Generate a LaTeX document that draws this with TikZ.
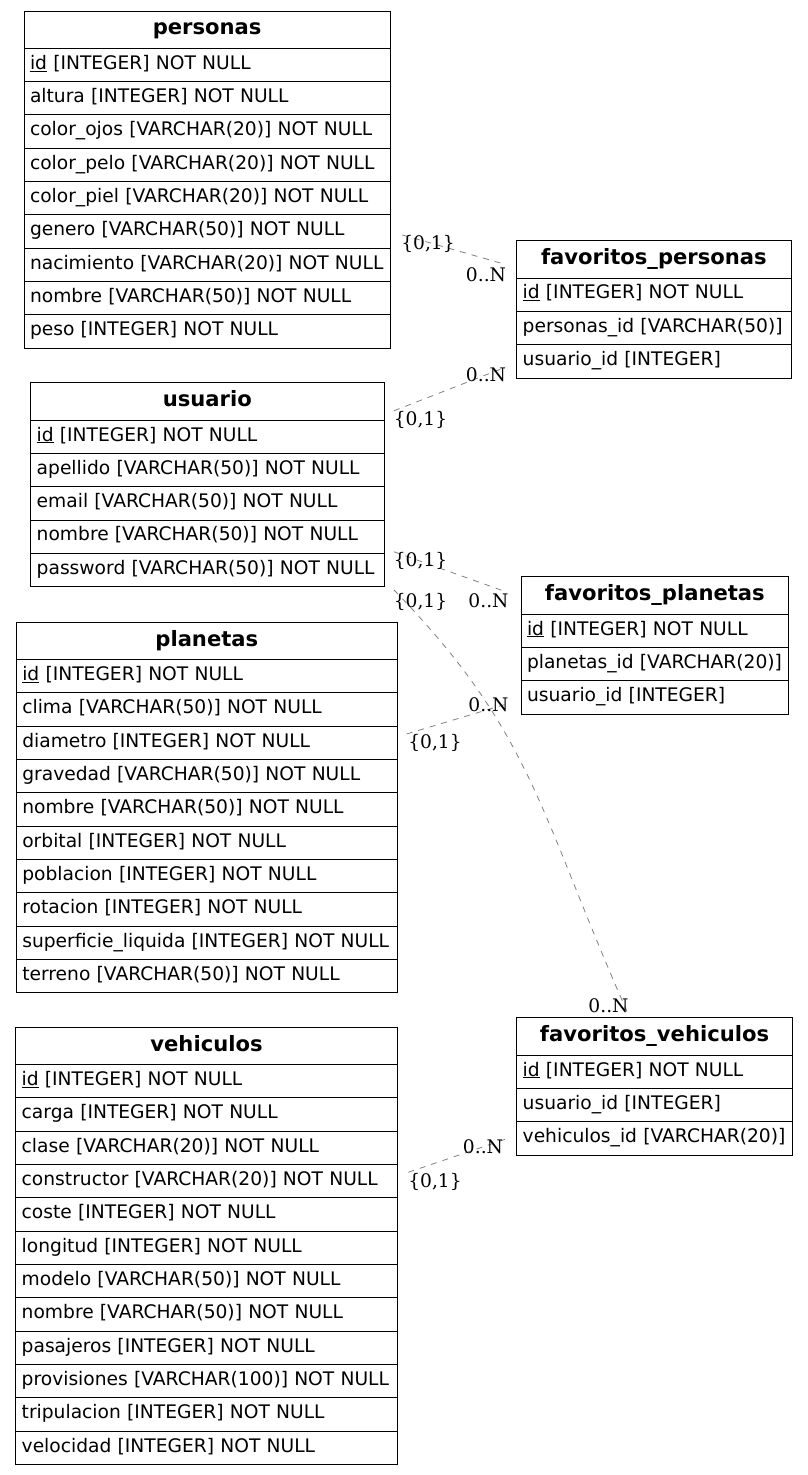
\documentclass[tikz,border=0pt]{standalone}
\usepackage{fontspec}
\newfontfamily\entfont{DejaVu Sans}
\newfontfamily\cardfont{DejaVu Serif}
\usetikzlibrary{positioning}
\newcommand\entsize{\entfont\fontsize{18.67}{22}\selectfont}
\newcommand\hdrsize{\entfont\fontsize{21.1}{24}\selectfont}
\newcommand\cardsize{\cardfont\fontsize{18.67}{22}\selectfont}
\tikzset{
  hdr/.style={draw, line width=1pt, outer sep=0pt, inner xsep=6pt, inner ysep=0pt,
    text width=#1, align=center, minimum height=37.33pt, text height=15pt, text depth=4.4pt,
    font=\hdrsize\bfseries, anchor=north west},
  fld/.style={draw, line width=1pt, outer sep=0pt, inner xsep=6pt, inner ysep=0pt,
    text width=#1, align=left, minimum height=33.33pt, text height=13.6pt, text depth=5pt,
    font=\entsize},
  rel/.style={gray, line width=0.8pt, dash pattern=on 6pt off 6pt},
  card/.style={inner sep=0pt, font=\cardsize}
}
\begin{document}
\begin{tikzpicture}[x=1pt,y=-1pt]
				\useasboundingbox (0,0) rectangle (808,1475);
				
				\node[hdr=354.3pt] (per) at (24,11) {personas};
				\node[fld=354.3pt, below=0pt of per] (per-id) {\underline{id} [INTEGER] NOT NULL};
				\node[fld=354.3pt, below=0pt of per-id] (per-altura) {altura [INTEGER] NOT NULL};
				\node[fld=354.3pt, below=0pt of per-altura] (per-ojos) {color\_ojos [VARCHAR(20)] NOT NULL};
				\node[fld=354.3pt, below=0pt of per-ojos] (per-pelo) {color\_pelo [VARCHAR(20)] NOT NULL};
				\node[fld=354.3pt, below=0pt of per-pelo] (per-piel) {color\_piel [VARCHAR(20)] NOT NULL};
				\node[fld=354.3pt, below=0pt of per-piel] (per-genero) {genero [VARCHAR(50)] NOT NULL};
				\node[fld=354.3pt, below=0pt of per-genero] (per-nacimiento) {nacimiento [VARCHAR(20)] NOT NULL};
				\node[fld=354.3pt, below=0pt of per-nacimiento] (per-nombre) {nombre [VARCHAR(50)] NOT NULL};
				\node[fld=354.3pt, below=0pt of per-nombre] (per-peso) {peso [INTEGER] NOT NULL};
				
				\node[hdr=262.3pt] (fper) at (516.7,240.7) {favoritos\_personas};
				\node[fld=262.3pt, below=0pt of fper] (fper-id) {\underline{id} [INTEGER] NOT NULL};
				\node[fld=262.3pt, below=0pt of fper-id] (fper-personas) {personas\_id [VARCHAR(50)]};
				\node[fld=262.3pt, below=0pt of fper-personas] (fper-usuario) {usuario\_id [INTEGER]};
				
				\node[hdr=341.3pt] (usu) at (30.7,382.7) {usuario};
				\node[fld=341.3pt, below=0pt of usu] (usu-id) {\underline{id} [INTEGER] NOT NULL};
				\node[fld=341.3pt, below=0pt of usu-id] (usu-apellido) {apellido [VARCHAR(50)] NOT NULL};
				\node[fld=341.3pt, below=0pt of usu-apellido] (usu-email) {email [VARCHAR(50)] NOT NULL};
				\node[fld=341.3pt, below=0pt of usu-email] (usu-nombre) {nombre [VARCHAR(50)] NOT NULL};
				\node[fld=341.3pt, below=0pt of usu-nombre] (usu-password) {password [VARCHAR(50)] NOT NULL};
				
				\node[hdr=255.7pt] (fpla) at (521,576.7) {favoritos\_planetas};
				\node[fld=255.7pt, below=0pt of fpla] (fpla-id) {\underline{id} [INTEGER] NOT NULL};
				\node[fld=255.7pt, below=0pt of fpla-id] (fpla-planetas) {planetas\_id [VARCHAR(20)]};
				\node[fld=255.7pt, below=0pt of fpla-planetas] (fpla-usuario) {usuario\_id [INTEGER]};
				
				\node[hdr=369pt] (pla) at (16.3,622.3) {planetas};
				\node[fld=369pt, below=0pt of pla] (pla-id) {\underline{id} [INTEGER] NOT NULL};
				\node[fld=369pt, below=0pt of pla-id] (pla-clima) {clima [VARCHAR(50)] NOT NULL};
				\node[fld=369pt, below=0pt of pla-clima] (pla-diametro) {diametro [INTEGER] NOT NULL};
				\node[fld=369pt, below=0pt of pla-diametro] (pla-gravedad) {gravedad [VARCHAR(50)] NOT NULL};
				\node[fld=369pt, below=0pt of pla-gravedad] (pla-nombre) {nombre [VARCHAR(50)] NOT NULL};
				\node[fld=369pt, below=0pt of pla-nombre] (pla-orbital) {orbital [INTEGER] NOT NULL};
				\node[fld=369pt, below=0pt of pla-orbital] (pla-poblacion) {poblacion [INTEGER] NOT NULL};
				\node[fld=369pt, below=0pt of pla-poblacion] (pla-rotacion) {rotacion [INTEGER] NOT NULL};
				\node[fld=369pt, below=0pt of pla-rotacion] (pla-superficie) {superficie\_liquida [INTEGER] NOT NULL};
				\node[fld=369pt, below=0pt of pla-superficie] (pla-terreno) {terreno [VARCHAR(50)] NOT NULL};
				
				\node[hdr=369.6pt] (veh) at (15.7,1027.3) {vehiculos};
				\node[fld=369.6pt, below=0pt of veh] (veh-id) {\underline{id} [INTEGER] NOT NULL};
				\node[fld=369.6pt, below=0pt of veh-id] (veh-carga) {carga [INTEGER] NOT NULL};
				\node[fld=369.6pt, below=0pt of veh-carga] (veh-clase) {clase [VARCHAR(20)] NOT NULL};
				\node[fld=369.6pt, below=0pt of veh-clase] (veh-constructor) {constructor [VARCHAR(20)] NOT NULL};
				\node[fld=369.6pt, below=0pt of veh-constructor] (veh-coste) {coste [INTEGER] NOT NULL};
				\node[fld=369.6pt, below=0pt of veh-coste] (veh-longitud) {longitud [INTEGER] NOT NULL};
				\node[fld=369.6pt, below=0pt of veh-longitud] (veh-modelo) {modelo [VARCHAR(50)] NOT NULL};
				\node[fld=369.6pt, below=0pt of veh-modelo] (veh-nombre) {nombre [VARCHAR(50)] NOT NULL};
				\node[fld=369.6pt, below=0pt of veh-nombre] (veh-pasajeros) {pasajeros [INTEGER] NOT NULL};
				\node[fld=369.6pt, below=0pt of veh-pasajeros] (veh-provisiones) {provisiones [VARCHAR(100)] NOT NULL};
				\node[fld=369.6pt, below=0pt of veh-provisiones] (veh-tripulacion) {tripulacion [INTEGER] NOT NULL};
				\node[fld=369.6pt, below=0pt of veh-tripulacion] (veh-velocidad) {velocidad [INTEGER] NOT NULL};
				
				\node[hdr=263.6pt] (fveh) at (516.7,1017.7) {favoritos\_vehiculos};
				\node[fld=263.6pt, below=0pt of fveh] (fveh-id) {\underline{id} [INTEGER] NOT NULL};
				\node[fld=263.6pt, below=0pt of fveh-id] (fveh-usuario) {usuario\_id [INTEGER]};
				\node[fld=263.6pt, below=0pt of fveh-usuario] (fveh-vehiculos) {vehiculos\_id [VARCHAR(20)]};
				
				\draw[rel] ([shift={(12,3.3)}]per-genero.east) -- ([shift={(-15,4)}]fper.west);
				\draw[rel] ([shift={(10,-9.3)}]usu.south east) -- ([shift={(-10.7,5.7)}]fper-usuario.west);
				\draw[rel] ([shift={(10,-1.6)}]usu-password.north east) -- ([shift={(-14.3,-3.3)}]fpla.west);
				\draw[rel] ([shift={(10,3.3)}]usu-password.south east) .. controls +(140,144) and +(-90,-202.5) .. ([shift={(-25.5,-1.7)}]fveh.north);
				\draw[rel] ([shift={(9.4,-9)}]pla-diametro.east) -- ([shift={(-14.3,6.6)}]fpla-usuario.west);
				\draw[rel] ([shift={(11,-9)}]veh-constructor.east) -- ([shift={(-11.7,1)}]fveh-vehiculos.west);
				
				\node[card] (c1) at (428,244) {\{0,1\}};
				\node[card] (n1) at (486,275) {0..N};
				\node[card] (c2) at (420.5,420) {\{0,1\}};
				\node[card] (n2) at (486,375) {0..N};
				\node[card] (c3) at (420.5,561) {\{0,1\}};
				\node[card] (n3) at (488.5,601) {0..N};
				\node[card] (c4) at (420.5,602) {\{0,1\}};
				\node[card] (n4) at (608.5,1006) {0..N};
				\node[card] (c5) at (435,743) {\{0,1\}};
				\node[card] (n5) at (488.5,705) {0..N};
				\node[card] (c6) at (435,1182) {\{0,1\}};
				\node[card] (n6) at (483,1147) {0..N};
\end{tikzpicture}
\end{document}
